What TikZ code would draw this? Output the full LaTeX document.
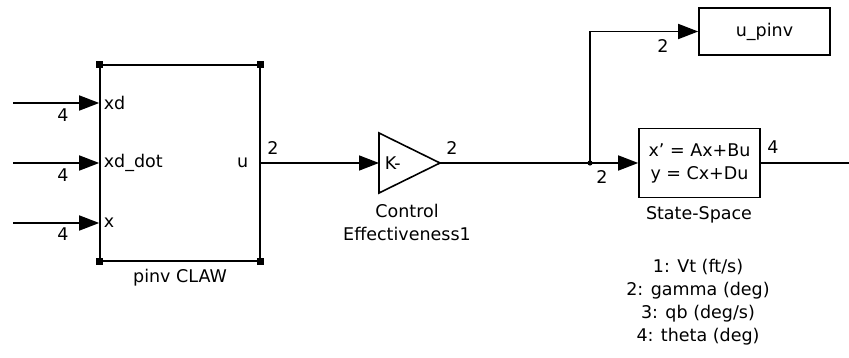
\documentclass[tikz,border=0pt]{standalone}
\usepackage{fontspec}
\setmainfont{DejaVu Sans}
\usetikzlibrary{arrows.meta}

\begin{document}
\begin{tikzpicture}[x=1pt,y=-1pt,
  font=\fontsize{17.5}{23}\selectfont,
  line width=1.6pt,
  blockbox/.style={draw, line width=1.6pt, inner sep=0pt},
  sig/.style={draw, line width=1.6pt, -{Triangle[length=20pt,width=15pt]}},
  wire/.style={draw, line width=1.6pt},
  lbl/.style={inner sep=0pt},
  handle/.style={fill=black}]
\useasboundingbox (0,0) rectangle (849,358);

% --- pinv CLAW subsystem ---
\node[blockbox, minimum width=160pt, minimum height=196pt] (claw) at (180,163) {};
\foreach \c in {north west, north east, south west, south east}
  \fill[handle] ([shift={(-3.5,-3.5)}]claw.\c) rectangle ++(7,7);
\node[lbl, anchor=west] (pxd)  at (103,103) {xd};
\node[lbl, anchor=west] (pxdd) at (103,163) {xd\_dot};
\node[lbl, anchor=west] (px)   at (103,223) {x};
\node[lbl, anchor=east] (pu)   at (249,163) {u};
\node[lbl] (clawname) at (180,278) {pinv CLAW};

% --- gain block ---
\coordinate (gainin)  at (379,163);
\coordinate (gainout) at (440,163);
\draw (379,133) -- (gainout) -- (379,193) -- cycle;
\node[lbl, anchor=west] (gaink) at (384,163) {K-};
\node[lbl, align=center] (gainname) at (407,222) {Control\\Effectiveness1};

% --- outport u_pinv ---
\node[blockbox, minimum width=131pt, minimum height=47pt] (upinv) at (764.5,31.5) {u\_pinv};

% --- state-space block ---
\node[blockbox, minimum width=121pt, minimum height=69pt, align=center] (ss) at (699.5,163)
  {x' = Ax+Bu\\y = Cx+Du};
\node[lbl] (ssname) at (699,215) {State-Space};
\node[lbl, align=center] (states) at (698,302)
  {1: Vt (ft/s)\\2: gamma (deg)\\3: qb (deg/s)\\4: theta (deg)};

% --- signal lines ---
\coordinate (in1) at (13,103);
\coordinate (in2) at (13,163);
\coordinate (in3) at (13,223);
\coordinate (jn)  at (590,163);
\coordinate (out) at (849,163);

\draw[sig] (in1) -- (in1 -| claw.west);
\draw[sig] (in2) -- (in2 -| claw.west);
\draw[sig] (in3) -- (in3 -| claw.west);
\draw[sig] (claw.east) -- (gainin);
\draw[wire] (gainout) -- (jn);
\draw[sig] (jn) -- (ss.west);
\draw[sig] (jn) |- (upinv.west);
\fill (jn) circle (2.6pt);
\draw[wire] (ss.east) -- (out);

% --- signal widths ---
\node[lbl] (w1) at (63,115) {4};
\node[lbl] (w2) at (63,175) {4};
\node[lbl] (w3) at (63,234) {4};
\node[lbl] (w4) at (273,148) {2};
\node[lbl] (w5) at (452,148) {2};
\node[lbl] (w6) at (663,46) {2};
\node[lbl] (w7) at (602,177) {2};
\node[lbl] (w8) at (773,147) {4};
\end{tikzpicture}
\end{document}
